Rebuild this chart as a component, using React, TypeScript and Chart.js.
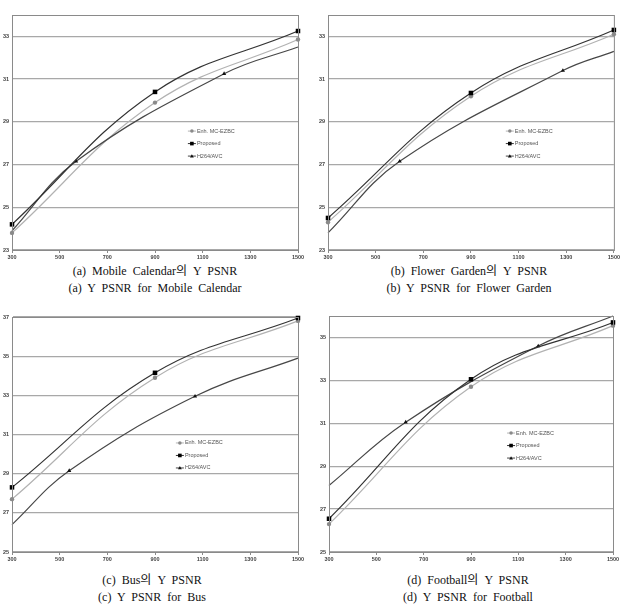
import { useEffect, useRef } from "react";
import { Chart, registerables } from "chart.js";

Chart.register(...registerables);

// Bit-rate axis (kbps)
const rateTicks = [300, 500, 700, 900, 1100, 1300, 1500];
const anchorRates = [300, 900, 1500];
const legendNames = ["Enh. MC-EZBC", "Proposed", "H264/AVC"];

// (a) Mobile Calendar
const mobileTicks = [23, 25, 27, 29, 31, 33];
const mobileEnh = [23.8, 29.9, 32.85];
const mobileProposed = [24.2, 30.4, 33.25];
const mobileH264Rates = [300, 569, 1190, 1500];
const mobileH264 = [23.9, 27.15, 31.25, 32.5];

// (b) Flower Garden
const flowerTicks = [23, 25, 27, 29, 31, 33];
const flowerEnh = [24.3, 30.2, 33.1];
const flowerProposed = [24.5, 30.35, 33.3];
const flowerH264Rates = [300, 601, 1286, 1500];
const flowerH264 = [23.8, 27.15, 31.4, 32.3];

// (c) Bus
const busTicks = [25, 27, 29, 31, 33, 35, 37];
const busEnh = [27.7, 33.9, 36.8];
const busProposed = [28.3, 34.15, 36.95];
const busH264Rates = [300, 540, 1068, 1500];
const busH264 = [26.4, 29.15, 32.95, 34.9];

// (d) Football
const footballTicks = [25, 27, 29, 31, 33, 35];
const footballEnh = [26.3, 32.7, 35.55];
const footballProposed = [26.55, 33.05, 35.7];
const footballH264Rates = [300, 624, 1184, 1500];
const footballH264 = [28.1, 31.05, 34.6, 36.0];

const tickFont = { family: "'Liberation Sans', Arial, sans-serif", size: 5.5, weight: "bold" as const };

const styles = [
  { color: "#b2b2b2", point: "circle", radius: 2.2, fill: "#8a8a8a" },
  { color: "#333333", point: "rect", radius: 3.2, fill: "#000000" },
  { color: "#474747", point: "triangle", radius: 2.4, fill: "#111111" },
];

const pairs = (xs: number[], ys: number[]) => xs.map((x, i) => ({ x, y: ys[i] }));

type PanelProps = {
  left: number;
  top: number;
  width: number;
  height: number;
  padTop: number;
  padRight: number;
  axisWidth: number;
  yMin: number;
  yMax: number;
  yTicks: number[];
  enh: number[];
  proposed: number[];
  h264Rates: number[];
  h264: number[];
  legendX: number;
  legendY: number;
};

const frameAndLegend = {
  id: "frameAndLegend",
  afterDraw(chart: any, _args: any, opts: any) {
    const { ctx, chartArea } = chart;
    const { left, right, top, bottom } = chartArea;
    ctx.save();
    ctx.strokeStyle = "#8a8a8a";
    ctx.lineWidth = 1;
    ctx.strokeRect(left + 0.5, top + 0.5, right - left, bottom - top);

    const lx = left + (right - left) * opts.fx;
    let ly = top + (bottom - top) * opts.fy;
    ctx.font = "5.5px 'Liberation Sans', Arial, sans-serif";
    ctx.textBaseline = "middle";
    legendNames.forEach((name, i) => {
      const st = styles[i];
      ctx.strokeStyle = st.color;
      ctx.lineWidth = 1;
      ctx.beginPath();
      ctx.moveTo(lx, ly);
      ctx.lineTo(lx + 8, ly);
      ctx.stroke();
      ctx.fillStyle = st.fill;
      const r = st.radius * 0.8;
      ctx.beginPath();
      if (st.point === "circle") {
        ctx.arc(lx + 4, ly, r, 0, Math.PI * 2);
      } else if (st.point === "rect") {
        const s = r * Math.SQRT1_2;
        ctx.rect(lx + 4 - s, ly - s, 2 * s, 2 * s);
      } else {
        ctx.moveTo(lx + 4, ly - r);
        ctx.lineTo(lx + 4 + r, ly + r * 0.7);
        ctx.lineTo(lx + 4 - r, ly + r * 0.7);
        ctx.closePath();
      }
      ctx.fill();
      ctx.fillStyle = "#555555";
      ctx.textAlign = "left";
      ctx.fillText(name, lx + 9, ly);
      ly += 12.5;
    });
    ctx.restore();
  },
};

function Panel(p: PanelProps) {
  const ref = useRef<HTMLCanvasElement>(null);
  useEffect(() => {
    if (!ref.current) return;
    const mk = (i: number, data: { x: number; y: number }[], radii: number | number[], order: number) => ({
      label: legendNames[i],
      data,
      borderColor: styles[i].color,
      borderWidth: 1.2,
      backgroundColor: styles[i].fill,
      pointStyle: styles[i].point,
      pointRadius: radii,
      pointBorderWidth: 0,
      pointBackgroundColor: styles[i].fill,
      tension: 0.4,
      clip: false as const,
      order,
    });
    const chart = new Chart(ref.current, {
      type: "line",
      data: {
        datasets: [
          mk(0, pairs(anchorRates, p.enh), styles[0].radius, 3),
          mk(1, pairs(anchorRates, p.proposed), styles[1].radius, 1),
          mk(2, pairs(p.h264Rates, p.h264), p.h264Rates.map((_, k) => (k === 0 || k === p.h264Rates.length - 1 ? 0 : styles[2].radius)), 2),
        ],
      },
      options: {
        animation: false,
        responsive: false,
        devicePixelRatio: 1,
        layout: { padding: { top: p.padTop, right: p.padRight, left: 0, bottom: 0 } },
        plugins: {
          legend: { display: false },
          tooltip: { enabled: false },
          frameAndLegend: { fx: p.legendX, fy: p.legendY },
        } as any,
        scales: {
          x: {
            type: "linear",
            min: 300,
            max: 1500,
            afterBuildTicks: (s: any) => {
              s.ticks = rateTicks.map((v) => ({ value: v }));
            },
            afterFit: (s: any) => {
              s.height = 12;
            },
            grid: { drawOnChartArea: false, drawTicks: true, tickLength: 3, color: "#8a8a8a" },
            border: { color: "#8a8a8a", width: 1 },
            ticks: {
              font: tickFont,
              color: "#444",
              padding: 1,
              maxRotation: 0,
              autoSkip: false,
              callback: (v: any) => String(v),
            },
          },
          y: {
            type: "linear",
            min: p.yMin,
            max: p.yMax,
            afterBuildTicks: (s: any) => {
              s.ticks = p.yTicks.map((v) => ({ value: v }));
            },
            afterFit: (s: any) => {
              s.width = p.axisWidth;
            },
            grid: { color: "#a8a8a8", lineWidth: 1.2, drawTicks: false },
            border: { color: "#8a8a8a", width: 1 },
            ticks: { font: tickFont, color: "#444", padding: 3, autoSkip: false, callback: (v: any) => String(v) },
          },
        },
      },
      plugins: [frameAndLegend],
    } as any);
    return () => chart.destroy();
  }, []);
  return (
    <canvas
      ref={ref}
      width={p.width}
      height={p.height}
      style={{ position: "absolute", left: p.left, top: p.top, width: p.width, height: p.height }}
    />
  );
}

function Caption({ cx, top, lines }: { cx: number; top: number; lines: string[] }) {
  return (
    <div
      style={{
        position: "absolute",
        left: cx - 150,
        top,
        width: 300,
        textAlign: "center",
        fontFamily: "'Liberation Serif', 'Times New Roman', 'Noto Sans CJK KR', serif",
        fontSize: 12,
        lineHeight: "17px",
        wordSpacing: 3,
        color: "#111",
        whiteSpace: "nowrap",
      }}
    >
      {lines.map((l) => (
        <div key={l}>{l}</div>
      ))}
    </div>
  );
}

export default function App() {
  return (
    <div style={{ position: "fixed", left: 0, top: 0, width: 621, height: 611, background: "#fff", overflow: "hidden" }}>
      <Panel left={0} top={0} width={306} height={262} padTop={15} padRight={8} axisWidth={12}
        yMin={23} yMax={34} yTicks={mobileTicks} enh={mobileEnh} proposed={mobileProposed}
        h264Rates={mobileH264Rates} h264={mobileH264} legendX={0.615} legendY={0.494} />
      <Panel left={316} top={0} width={305} height={262} padTop={15} padRight={7} axisWidth={12}
        yMin={23} yMax={34} yTicks={flowerTicks} enh={flowerEnh} proposed={flowerProposed}
        h264Rates={flowerH264Rates} h264={flowerH264} legendX={0.622} legendY={0.494} />
      <Panel left={0} top={300} width={306} height={264} padTop={17} padRight={8} axisWidth={12}
        yMin={25} yMax={37} yTicks={busTicks} enh={busEnh} proposed={busProposed}
        h264Rates={busH264Rates} h264={busH264} legendX={0.573} legendY={0.536} />
      <Panel left={316} top={300} width={305} height={264} padTop={16} padRight={8} axisWidth={13}
        yMin={25} yMax={36} yTicks={footballTicks} enh={footballEnh} proposed={footballProposed}
        h264Rates={footballH264Rates} h264={footballH264} legendX={0.627} legendY={0.496} />
      <Caption cx={155} top={263} lines={["(a) Mobile Calendar의 Y PSNR", "(a) Y PSNR for Mobile Calendar"]} />
      <Caption cx={469} top={263} lines={["(b) Flower Garden의 Y PSNR", "(b) Y PSNR for Flower Garden"]} />
      <Caption cx={152} top={572} lines={["(c) Bus의 Y PSNR", "(c) Y PSNR for Bus"]} />
      <Caption cx={468} top={572} lines={["(d) Football의 Y PSNR", "(d) Y PSNR for Football"]} />
    </div>
  );
}
